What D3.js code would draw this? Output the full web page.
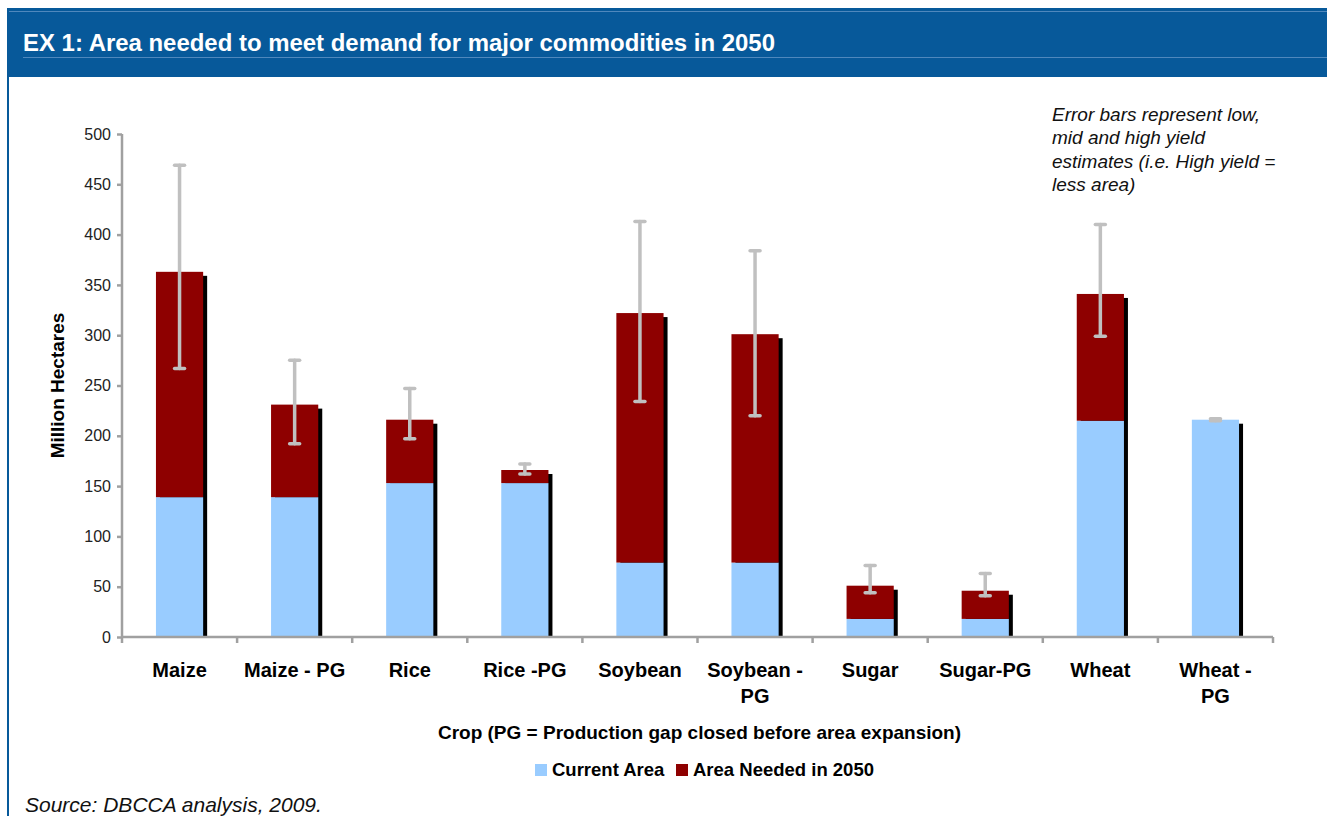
<!DOCTYPE html>
<html>
<head>
<meta charset="utf-8">
<script src="https://cdn.jsdelivr.net/npm/d3@7"></script>
<style>
    body { margin: 0; background: #fff; }
    svg { display: block; font-family: "Liberation Sans", Arial, sans-serif; }
</style>
</head>
<body>
<svg id="bar-chart"></svg>
<script>
// Chart data (million hectares)
const crops = ["Maize", "Maize - PG", "Rice", "Rice -PG", "Soybean", "Soybean - PG", "Sugar", "Sugar-PG", "Wheat", "Wheat - PG"];
const cropLabels = [["Maize"], ["Maize - PG"], ["Rice"], ["Rice -PG"], ["Soybean"], ["Soybean -", "PG"], ["Sugar"], ["Sugar-PG"], ["Wheat"], ["Wheat -", "PG"]];
const currentArea = [139, 139, 153, 153, 74, 74, 18, 18, 215, 216];
const areaNeeded = [224, 92, 63, 13, 248, 227, 33, 28, 126, 0];
const errorLow = [267, 192, 197, 162, 234, 220, 44, 41, 299, 215];
const errorHigh = [469, 275, 247, 172, 413, 384, 71, 63, 410, 217];
const yTicks = [0, 50, 100, 150, 200, 250, 300, 350, 400, 450, 500];
const seriesNames = ["Current Area", "Area Needed in 2050"];

const dimensions = {
    width: 1327,
    height: 816,
    margin: { top: 134, right: 54, bottom: 179, left: 122 }
};
const plotW = dimensions.width - dimensions.margin.left - dimensions.margin.right;
const plotH = dimensions.height - dimensions.margin.top - dimensions.margin.bottom;

const headerBlue = "#07599a";
const axisGrey = "#a0a0a0";

var root = d3.select("#bar-chart")
    .attr("width", dimensions.width)
    .attr("height", dimensions.height);

// Header band
root.append("rect")
    .attr("x", 7).attr("y", 8)
    .attr("width", dimensions.width - 7).attr("height", 69)
    .attr("fill", headerBlue);
root.append("line")
    .attr("x1", 9).attr("x2", dimensions.width)
    .attr("y1", 11.5).attr("y2", 11.5)
    .attr("stroke", "#4f88bd").attr("stroke-width", 1);
root.append("line")
    .attr("x1", 23).attr("x2", dimensions.width)
    .attr("y1", 57.5).attr("y2", 57.5)
    .attr("stroke", "#4f88bd").attr("stroke-width", 1);
root.append("text")
    .attr("x", 23).attr("y", 51)
    .attr("fill", "#fff")
    .attr("textLength", 752)
    .attr("lengthAdjust", "spacingAndGlyphs")
    .style("font-size", "23px")
    .style("font-weight", "bold")
    .text("EX 1: Area needed to meet demand for major commodities in 2050");
// left border
root.append("rect")
    .attr("x", 7).attr("y", 77)
    .attr("width", 2).attr("height", dimensions.height - 77)
    .attr("fill", headerBlue);

var svg = root.append("g")
    .attr("transform", `translate(${dimensions.margin.left}, ${dimensions.margin.top})`);

var xScale = d3.scaleBand()
    .domain(crops)
    .range([0, plotW])
    .padding(0);

var yScale = d3.scaleLinear()
    .domain([0, 500])
    .range([plotH, 0]);

var colorScale = d3.scaleOrdinal()
    .domain(seriesNames)
    .range(["#99ccff", "#8e0000"]);

const barW = xScale.bandwidth() * 0.41;
const barX = d => xScale(d.crop) + (xScale.bandwidth() - barW) / 2;

const rows = crops.map((c, i) => ({
    crop: c,
    "Current Area": currentArea[i],
    "Area Needed in 2050": areaNeeded[i],
    low: errorLow[i],
    high: errorHigh[i]
}));

var layers = d3.stack().keys(seriesNames)(rows);

// Drop shadow behind each bar
svg.selectAll(".shadow")
    .data(rows)
    .enter()
    .append("rect")
    .attr("class", "shadow")
    .attr("x", d => barX(d) + 4)
    .attr("y", d => yScale(d["Current Area"] + d["Area Needed in 2050"]) + 4)
    .attr("width", barW)
    .attr("height", d => plotH - yScale(d["Current Area"] + d["Area Needed in 2050"]) - 4)
    .attr("fill", "#000");

// Stacked bars
svg.selectAll(".layer")
    .data(layers)
    .enter()
    .append("g")
    .attr("class", "layer")
    .attr("fill", d => colorScale(d.key))
    .selectAll("rect")
    .data(d => d)
    .enter()
    .append("rect")
    .attr("x", d => barX(d.data))
    .attr("y", d => yScale(d[1]))
    .attr("width", barW)
    .attr("height", d => yScale(d[0]) - yScale(d[1]));

// Error bars
const err = svg.selectAll(".err")
    .data(rows)
    .enter()
    .append("g")
    .attr("class", "err")
    .attr("stroke", "#c0c0c0")
    .attr("stroke-width", 3.5)
    .attr("stroke-linecap", "round");
const cx = d => xScale(d.crop) + xScale.bandwidth() / 2;
err.append("line")
    .attr("x1", cx).attr("x2", cx)
    .attr("y1", d => yScale(d.low)).attr("y2", d => yScale(d.high));
err.append("line")
    .attr("x1", d => cx(d) - 5).attr("x2", d => cx(d) + 5)
    .attr("y1", d => yScale(d.low)).attr("y2", d => yScale(d.low));
err.append("line")
    .attr("x1", d => cx(d) - 5).attr("x2", d => cx(d) + 5)
    .attr("y1", d => yScale(d.high)).attr("y2", d => yScale(d.high));

// Y axis
var yAxis = svg.append("g")
    .call(d3.axisLeft(yScale).tickValues(yTicks).tickSize(5).tickPadding(6));
yAxis.select(".domain").attr("stroke", axisGrey).attr("stroke-width", 2.5)
    .attr("d", `M0,${plotH}V0`);
yAxis.selectAll(".tick line").attr("stroke", axisGrey).attr("stroke-width", 2.5);
yAxis.selectAll(".tick text")
    .attr("fill", "#222")
    .style("font-size", "16px")
    .style("font-family", "'Liberation Sans', Arial, sans-serif");

// X axis: line with ticks at category boundaries
var xAxis = svg.append("g")
    .attr("transform", `translate(0, ${plotH})`);
xAxis.append("line")
    .attr("x1", 0).attr("x2", plotW)
    .attr("stroke", axisGrey).attr("stroke-width", 2.5);
xAxis.selectAll(".bound")
    .data(crops.concat(["end"]))
    .enter()
    .append("line")
    .attr("x1", (d, i) => i * xScale.step())
    .attr("x2", (d, i) => i * xScale.step())
    .attr("y1", 0).attr("y2", 6)
    .attr("stroke", axisGrey).attr("stroke-width", 2.5);
xAxis.selectAll(".xlabel")
    .data(crops)
    .enter()
    .append("text")
    .attr("class", "xlabel")
    .attr("x", d => xScale(d) + xScale.bandwidth() / 2)
    .attr("y", 40)
    .attr("text-anchor", "middle")
    .style("font-size", "20px")
    .style("font-weight", "bold")
    .selectAll("tspan")
    .data((d, i) => cropLabels[i])
    .enter()
    .append("tspan")
    .attr("x", function() { return this.parentNode.getAttribute("x"); })
    .attr("dy", (d, i) => i === 0 ? 0 : 26)
    .text(d => d);

// Axis titles
svg.append("text")
    .attr("x", plotW / 2 + 2)
    .attr("y", plotH + 102)
    .attr("text-anchor", "middle")
    .style("font-size", "19px")
    .style("font-weight", "bold")
    .text("Crop (PG = Production gap closed before area expansion)");

svg.append("text")
    .attr("transform", `translate(-58, ${plotH / 2}) rotate(-90)`)
    .attr("text-anchor", "middle")
    .style("font-size", "19px")
    .style("font-weight", "bold")
    .text("Million Hectares");

// Legend
const legendX = [535, 676];
const legend = root.selectAll(".legend")
    .data(seriesNames)
    .enter()
    .append("g")
    .attr("class", "legend")
    .attr("transform", (d, i) => `translate(${legendX[i]}, 764)`);
legend.append("rect")
    .attr("width", 12).attr("height", 12)
    .attr("fill", colorScale);
legend.append("text")
    .attr("x", 17).attr("y", 12)
    .style("font-size", "18.5px")
    .style("font-weight", "bold")
    .text(d => d);

// Annotation
const note = ["Error bars represent low,", "mid and high yield", "estimates (i.e. High yield =", "less area)"];
root.append("text")
    .attr("x", 1052).attr("y", 121)
    .style("font-size", "19px")
    .style("font-style", "italic")
    .attr("fill", "#111")
    .selectAll("tspan")
    .data(note)
    .enter()
    .append("tspan")
    .attr("x", 1052)
    .attr("dy", (d, i) => i === 0 ? 0 : 23.3)
    .text(d => d);

// Source
root.append("text")
    .attr("x", 25).attr("y", 812)
    .style("font-size", "21px")
    .style("font-style", "italic")
    .attr("fill", "#111")
    .text("Source: DBCCA analysis, 2009.");
</script>
</body>
</html>
